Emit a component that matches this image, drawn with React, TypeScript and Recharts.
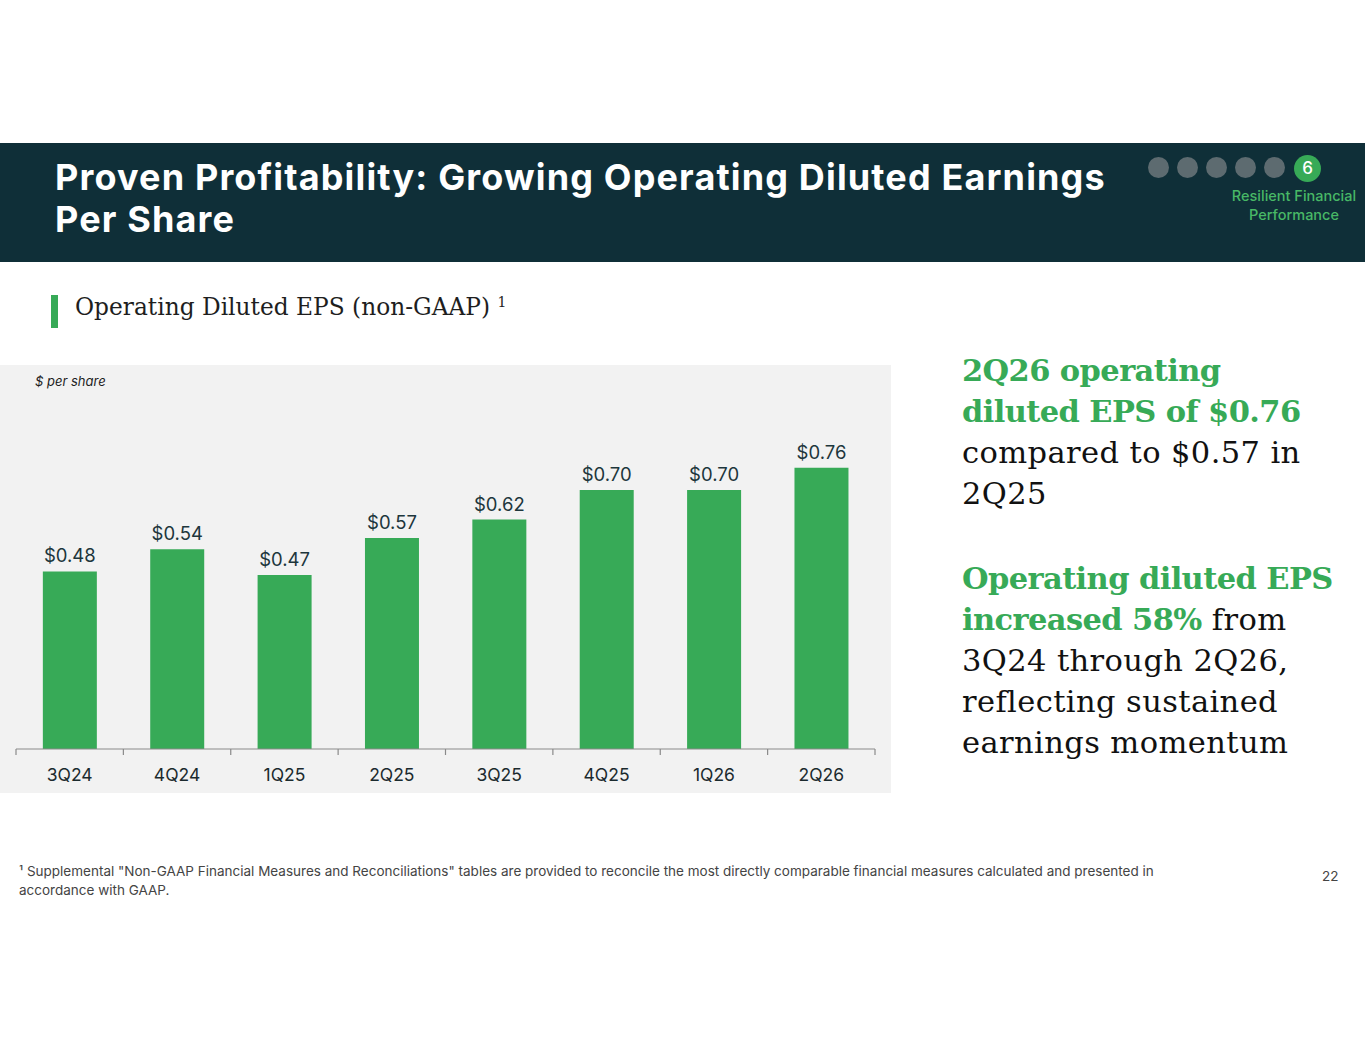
import * as React from "react";
import { BarChart, Bar, XAxis, YAxis, LabelList } from "recharts";

// ── Data ────────────────────────────────────────────────────────────────────
const QUARTERS = ["3Q24", "4Q24", "1Q25", "2Q25", "3Q25", "4Q25", "1Q26", "2Q26"];
const EPS = [0.48, 0.54, 0.47, 0.57, 0.62, 0.7, 0.7, 0.76];
const Y_DOMAIN = [0, 0.8];

const data = QUARTERS.map((q, i) => ({ quarter: q, eps: EPS[i] }));

// ── Styling ─────────────────────────────────────────────────────────────────
const GREEN = "#37aa57";
const NAVY = "#0f2f38";
const LABEL_INK = "#1d363c";
const SANS = "Inter, 'Noto Sans', Arial, sans-serif";
const SERIF = "'DejaVu Serif', 'Liberation Serif', serif";

const CHART_W = 891;
const CHART_H = 428;
const MARGIN = { top: 88, right: 16, left: 16, bottom: 0 };
const BAND = (CHART_W - MARGIN.left - MARGIN.right) / QUARTERS.length;

// x tick: tick marks sit on category boundaries, label in the middle
function QuarterTick(props: any) {
  const { x, y, payload, index } = props;
  const half = BAND / 2;
  return (
    <g>
      <line x1={x - half} x2={x - half} y1={y - 8} y2={y - 2} stroke="#8a8a8a" strokeWidth={1.2} />
      {index === QUARTERS.length - 1 && (
        <line x1={x + half} x2={x + half} y1={y - 8} y2={y - 2} stroke="#8a8a8a" strokeWidth={1.2} />
      )}
      <text x={x} y={y + 24} textAnchor="middle" fontSize={17.5} fill="#1b2a2e" fontFamily={SANS}>
        {payload.value}
      </text>
    </g>
  );
}

function EpsChart() {
  return (
    <BarChart width={CHART_W} height={CHART_H} data={data} margin={MARGIN} barCategoryGap="25%">
      <YAxis hide domain={Y_DOMAIN} />
      <XAxis
        dataKey="quarter"
        height={44}
        tickLine={false}
        axisLine={{ stroke: "#8a8a8a", strokeWidth: 1.2 }}
        tick={<QuarterTick />}
        interval={0}
      />
      <Bar dataKey="eps" fill={GREEN} isAnimationActive={false}>
        <LabelList
          dataKey="eps"
          position="top"
          offset={9}
          formatter={(v: any) => `$${Number(v).toFixed(2)}`}
          fill={LABEL_INK}
          fontSize={18.5}
          fontFamily={SANS}
        />
      </Bar>
    </BarChart>
  );
}

const DOTS = [1, 2, 3, 4, 5];

const bold = { color: GREEN, fontWeight: 700, letterSpacing: -0.6 } as const;

export default function App() {
  return (
    <div
      style={{
        position: "absolute",
        left: 0,
        top: 0,
        width: 1365,
        height: 1055,
        background: "#fff",
        overflow: "hidden",
        fontFamily: SANS,
      }}
    >
      {/* header band */}
      <div style={{ position: "absolute", left: 0, top: 143, width: 1365, height: 119, background: NAVY }}>
        <div
          style={{
            position: "absolute",
            left: 55,
            top: 13,
            color: "#fff",
            fontWeight: 700,
            fontSize: 36,
            lineHeight: "42px",
            letterSpacing: 1.15,
            whiteSpace: "nowrap",
          }}
        >
          Proven Profitability: Growing Operating Diluted Earnings
          <br />
          Per Share
        </div>
        {DOTS.map((d, i) => (
          <div
            key={d}
            style={{
              position: "absolute",
              left: 1148 + i * 29,
              top: 14,
              width: 21,
              height: 21,
              borderRadius: 11,
              background: "#5d6b70",
            }}
          />
        ))}
        <div
          style={{
            position: "absolute",
            left: 1294,
            top: 12,
            width: 27,
            height: 27,
            borderRadius: 14,
            background: GREEN,
            color: "#fff",
            fontSize: 17,
            fontWeight: 500,
            textAlign: "center",
            lineHeight: "27px",
          }}
        >
          6
        </div>
        <div
          style={{
            position: "absolute",
            left: 1222,
            width: 144,
            top: 43,
            color: "#48b866",
            fontSize: 14.5,
            fontWeight: 500,
            lineHeight: "19px",
            textAlign: "center",
          }}
        >
          Resilient Financial
          <br />
          Performance
        </div>
      </div>

      {/* section subtitle */}
      <div style={{ position: "absolute", left: 51, top: 295, width: 7, height: 33, background: GREEN }} />
      <div
        style={{
          position: "absolute",
          left: 75,
          top: 292,
          fontFamily: SERIF,
          fontSize: 23.3,
          color: "#1e1e1e",
          lineHeight: "30px",
          whiteSpace: "nowrap",
        }}
      >
        Operating Diluted EPS (non-GAAP){" "}
        <span style={{ fontSize: 14, position: "relative", top: -8 }}>1</span>
      </div>

      {/* chart panel */}
      <div style={{ position: "absolute", left: 0, top: 365, width: CHART_W, height: CHART_H, background: "#f2f2f2" }}>
        <div
          style={{
            position: "absolute",
            left: 35,
            top: 8,
            fontSize: 13,
            fontStyle: "italic",
            color: "#1e1e1e",
          }}
        >
          $ per share
        </div>
        <EpsChart />
      </div>

      {/* commentary */}
      <div
        style={{
          position: "absolute",
          left: 962,
          top: 350,
          width: 400,
          fontFamily: SERIF,
          fontSize: 30.5,
          lineHeight: "41px",
          letterSpacing: 0.4,
          color: "#111",
          whiteSpace: "nowrap",
        }}
      >
        <span style={bold}>
          2Q26 operating
          <br />
          diluted EPS of $0.76
        </span>
        <br />
        compared to $0.57 in
        <br />
        2Q25
        <div style={{ height: 44 }} />
        <span style={bold}>
          Operating diluted EPS
          <br />
          increased 58%
        </span>{" "}
        from
        <br />
        3Q24 through 2Q26,
        <br />
        reflecting sustained
        <br />
        earnings momentum
      </div>

      {/* footnote */}
      <div
        style={{
          position: "absolute",
          left: 19,
          top: 862,
          width: 1150,
          fontSize: 13.5,
          lineHeight: "18.5px",
          color: "#444",
        }}
      >
        ¹ Supplemental "Non-GAAP Financial Measures and Reconciliations" tables are provided to reconcile the most
        directly comparable financial measures calculated and presented in accordance with GAAP.
      </div>
      <div style={{ position: "absolute", left: 1322, top: 868, fontSize: 13.5, color: "#444" }}>22</div>
    </div>
  );
}
